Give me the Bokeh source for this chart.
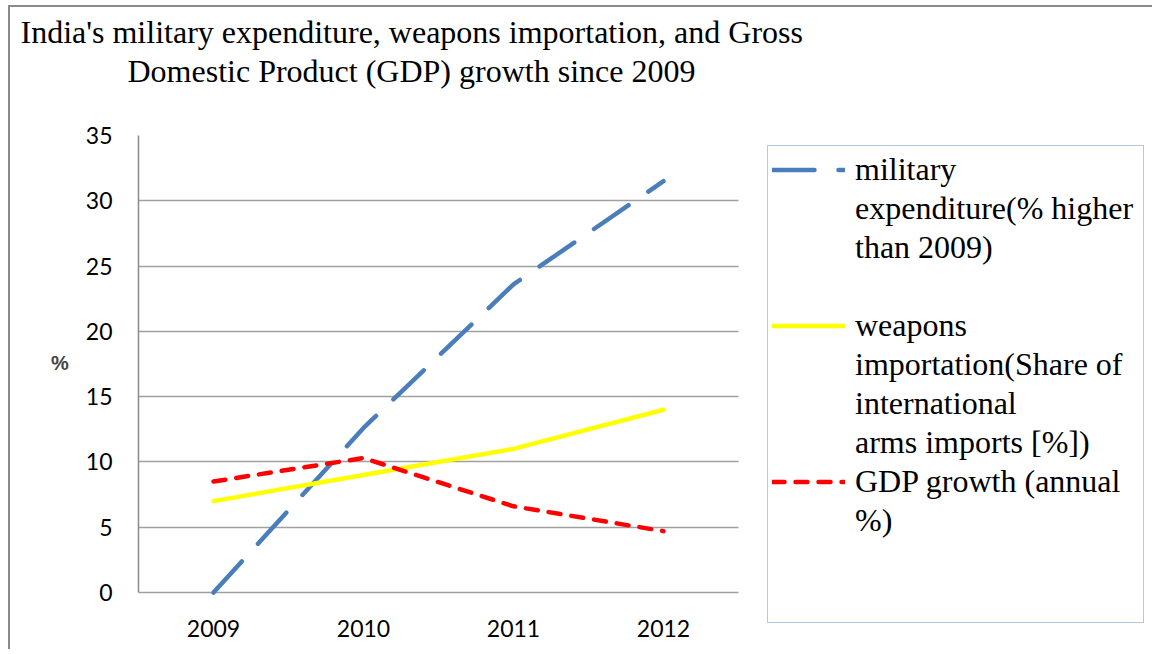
from bokeh.plotting import figure
from bokeh.models import (Range1d, Legend, LegendItem, Title, SingleIntervalTicker,
                          BoxAnnotation)
from bokeh.core.properties import value
from bokeh.embed import file_html
from bokeh.resources import INLINE

years = ["2009", "2010", "2011", "2012"]
military = [0.0, 12.6, 23.6, 31.5]
weapons = [7.0, 9.0, 11.0, 14.0]
gdp = [8.5, 10.3, 6.6, 4.7]

label_lines = [
    ["military", "expenditure(% higher", "than 2009)", " "],
    ["weapons", "importation(Share of", "international", "arms imports [%])"],
    ["GDP growth (annual", "%)", " ", " "],
]
title_lines = [
    "India's military expenditure, weapons importation, and Gross",
    "Domestic Product (GDP) growth since 2009",
]

x_idx = list(range(len(years)))

# layout geometry (pixels)
W, H = 1144, 644
LEFT, TOP = 128, 128
CAT_PX = 150.0
ZERO_Y = 585            # canvas y of value 0
PX_PER_UNIT = (ZERO_Y - TOP) / 35.0
x_end = -0.5 + (W - LEFT) / CAT_PX
y_start = -(H - ZERO_Y) / PX_PER_UNIT

p = figure(width=W, height=H, x_range=Range1d(-0.5, x_end),
           y_range=Range1d(y_start, 35), output_backend="svg", toolbar_location=None,
           x_axis_location=None,
           min_border_left=LEFT, min_border_right=0, min_border_top=TOP,
           min_border_bottom=0)
p.styles = {"border-top": "2px solid #8a8a8a", "border-left": "2px solid #8a8a8a",
            "margin-left": "8px", "margin-top": "5px"}
p.outline_line_color = None
p.background_fill_color = "white"
p.border_fill_color = "white"

# titles: spacer, line 2, line 1 (outward)
p.add_layout(Title(text=" ", text_font_size="1px", standoff=44), "above")
p.add_layout(Title(text=title_lines[1], align="left", offset=-11,
                   text_font="Liberation Serif", text_font_size="32px",
                   text_font_style="normal", text_color="black", standoff=0), "above")
p.add_layout(Title(text=title_lines[0], align="left", offset=-118,
                   text_font="Liberation Serif", text_font_size="32px",
                   text_font_style="normal", text_color="black", standoff=1), "above")

p.ygrid.grid_line_color = "#a0a0a0"
p.ygrid.grid_line_width = 1.5
p.xgrid.grid_line_color = None

# hide grid to the right of the category area
p.add_layout(BoxAnnotation(left=3.5, fill_color="white", fill_alpha=1.0,
                           line_alpha=0, level="underlay"))

r1 = p.line(x_idx, military, line_color="#4a7ebb", line_width=4.5,
            line_dash="42 24", line_cap="round")
r2 = p.line(x_idx, weapons, line_color="#ffff00", line_width=4.5, line_cap="round")
r3 = p.line(x_idx, gdp, line_color="#ff0000", line_width=4.5,
            line_dash="12 11", line_cap="round")
blank = p.line(x_idx, weapons, line_alpha=0)

# category labels under the zero line
p.text(x=x_idx, y=[0] * len(years), text=years, y_offset=36,
       text_align="center", text_baseline="middle",
       text_font=value("Lato"), text_font_size="23px", text_color="black")

p.yaxis.ticker = SingleIntervalTicker(interval=5)
p.yaxis.bounds = (0, 35)
p.yaxis.minor_tick_line_color = None
p.yaxis.major_tick_in = 0
p.yaxis.major_tick_out = 0
p.yaxis.axis_line_color = "#8a8a8a"
p.yaxis.axis_line_width = 1.5
p.yaxis.major_label_standoff = 22
p.yaxis.major_label_text_font = "Lato"
p.yaxis.major_label_text_font_size = "23px"
p.yaxis.major_label_text_color = "black"
p.yaxis.axis_label = "%\n \n "
p.yaxis.axis_label_orientation = "horizontal"
p.yaxis.axis_label_text_font = "Liberation Sans"
p.yaxis.axis_label_text_font_style = "bold"
p.yaxis.axis_label_text_font_size = "20px"
p.yaxis.axis_label_text_line_height = 1.4
p.yaxis.axis_label_standoff = 14

items = []
for lines, r in zip(label_lines, [r1, r2, r3]):
    for i, ln in enumerate(lines):
        items.append(LegendItem(label=ln, renderers=[r if i == 0 else blank]))

legend = Legend(items=items, location=(629, 28), glyph_width=73, glyph_height=39,
                label_height=39, label_width=284, label_standoff=10, padding=4,
                spacing=0,
                label_text_font="Liberation Serif", label_text_font_size="32px",
                label_text_color="black",
                border_line_color="#6592d4", border_line_width=1.5,
                background_fill_color="white", background_fill_alpha=1.0)
p.add_layout(legend, "center")

open("out.html", "w").write(file_html(p, INLINE))
